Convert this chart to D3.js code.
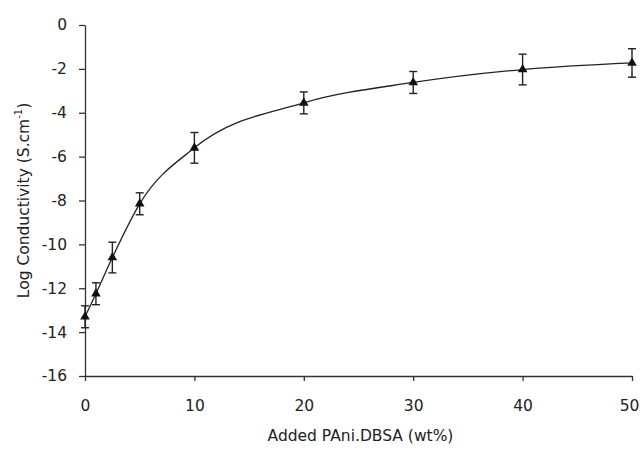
<!DOCTYPE html>
<html>
<head>
<meta charset="utf-8">
<script src="https://cdn.jsdelivr.net/npm/d3@7"></script>
<style>
  body { margin: 0; background: #fff; }
  svg { display: block; }
  .tick text { font-family: "DejaVu Sans", Verdana, sans-serif; font-size: 15.5px; fill: #222; }
</style>
</head>
<body>
<main></main>
<script>
const loading = [0, 1, 2.5, 5, 10, 20, 30, 40, 50];
const logCond = [-13.3, -12.25, -10.6, -8.15, -5.6, -3.55, -2.62, -2.03, -1.73];
const errors = [0.5, 0.5, 0.7, 0.5, 0.7, 0.5, 0.5, 0.7, 0.65];
const xTicks = [0, 10, 20, 30, 40, 50];
const yTicks = [0, -2, -4, -6, -8, -10, -12, -14, -16];

const width = 640;
const height = 449;
const margin = { top: 25, right: 8, bottom: 73, left: 85 };

const points = loading.map((x, i) => ({ x, y: logCond[i], e: errors[i] }));

const svg = d3.select('main')
  .append('svg')
  .attr('width', width)
  .attr('height', height)

const x = d3.scaleLinear()
  .domain([0, 50])
  .range([margin.left, width - margin.right])

const y = d3.scaleLinear()
  .domain([-16, 0])
  .range([height - margin.bottom, margin.top])

// Axes
const xAxisG = svg.append('g')
  .attr('transform', `translate(0, ${y(-16)})`)
  .call(d3.axisBottom(x).tickValues(xTicks).tickFormat(d => String(d))
    .tickSize(5).tickPadding(19).tickSizeOuter(0))

// last label sits on the right edge, pull it in a bit so it is not clipped
xAxisG.selectAll('.tick text')
  .filter(d => d === 50)
  .attr('dx', -3)

svg.append('g')
  .attr('transform', `translate(${x(0)}, 0)`)
  .call(d3.axisLeft(y).tickValues(yTicks).tickFormat(d => String(d))
    .tickSize(6).tickPadding(12).tickSizeOuter(0))

svg.selectAll('.domain, .tick line')
  .style('stroke', '#333')
  .style('stroke-width', 1.3)

// Titles
svg.append('text')
  .attr('x', (x(0) + x(50)) / 2 + 2)
  .attr('y', 441)
  .attr('text-anchor', 'middle')
  .style('font-family', '"DejaVu Sans", Verdana, sans-serif')
  .style('font-size', '15.5px')
  .style('fill', '#222')
  .text('Added PAni.DBSA (wt%)')

const yTitle = svg.append('text')
  .attr('transform', `translate(29, ${y(-8)}) rotate(-90)`)
  .attr('text-anchor', 'middle')
  .style('font-family', '"DejaVu Sans", Verdana, sans-serif')
  .style('font-size', '15.5px')
  .style('fill', '#222')

yTitle.append('tspan').text('Log Conductivity (S.cm')
yTitle.append('tspan').attr('dy', -7).style('font-size', '10px').text('-1')
yTitle.append('tspan').attr('dy', 7).text(')')

// Fitted curve
const line = d3.line()
  .x(d => x(d.x))
  .y(d => y(d.y))
  .curve(d3.curveMonotoneX)

svg.append('path')
  .datum(points)
  .attr('d', line)
  .style('fill', 'none')
  .style('stroke', '#222')
  .style('stroke-width', 1.3)

// Error bars
const bars = svg.append('g')
  .selectAll('g')
  .data(points)
  .enter()
  .append('g')
  .style('stroke', '#222')
  .style('stroke-width', 1.4)

bars.append('line')
  .attr('x1', d => x(d.x))
  .attr('x2', d => x(d.x))
  .attr('y1', d => y(d.y + d.e))
  .attr('y2', d => y(d.y - d.e))

bars.append('line')
  .attr('x1', d => x(d.x) - 4)
  .attr('x2', d => x(d.x) + 4)
  .attr('y1', d => y(d.y + d.e))
  .attr('y2', d => y(d.y + d.e))

bars.append('line')
  .attr('x1', d => x(d.x) - 4)
  .attr('x2', d => x(d.x) + 4)
  .attr('y1', d => y(d.y - d.e))
  .attr('y2', d => y(d.y - d.e))

// Markers
svg.append('g')
  .selectAll('path')
  .data(points)
  .enter()
  .append('path')
  .attr('transform', d => `translate(${x(d.x)}, ${y(d.y)})`)
  .attr('d', d3.symbol(d3.symbolTriangle, 40))
  .style('fill', '#111')
</script>
</body>
</html>
